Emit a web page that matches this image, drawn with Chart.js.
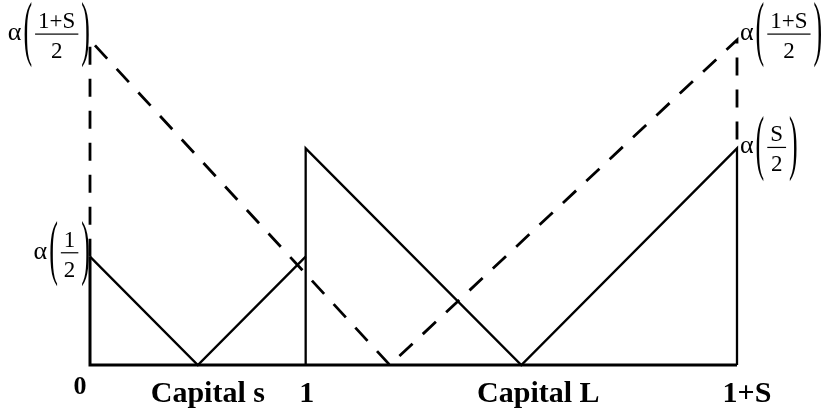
<!DOCTYPE html>
<html>
<head>
<meta charset="utf-8">
<script src="https://cdn.jsdelivr.net/npm/chart.js@4/dist/chart.umd.min.js"></script>
<style>
  html, body { margin: 0; padding: 0; background: #fff; }
  #wrap { width: 825px; height: 412px; position: relative; }
</style>
</head>
<body>
<div id="wrap"><canvas id="capitalChart"></canvas></div>
<script>
// axis ticks along the bottom
const xTickValues = [0, 0.5, 1, 2, 3];
const xTickLabels = ['0', 'Capital s', '1', 'Capital L', '1+S'];

// solid payoff lines
const baseX = [3, 0, 0];
const baseY = [0, 0, 0.5];
const lowX = [0, 0.5, 1];
const lowY = [0.5, 0, 0.5];
const highX = [1, 1, 2, 3, 3];
const highY = [0, 1, 0, 1, 0];

// dashed line
const dashX = [0, 0, 1.39, 3, 3];
const dashY = [0.5, 1.5, 0, 1.5, 1];

// alpha(num/den) labels on the vertical edges
const alphaAtX = [0, 0, 3, 3];
const alphaAtY = [0.5, 1.5, 1, 1.5];
const alphaNum = ['1', '1+S', 'S', '1+S'];
const alphaDen = ['2', '2', '2', '2'];

const pts = (xs, ys) => xs.map((x, i) => ({ x: x, y: ys[i] }));

function lineSet(xs, ys, width, dash) {
  return {
    data: pts(xs, ys),
    showLine: true,
    borderColor: '#000',
    borderWidth: width,
    borderDash: dash || [],
    pointRadius: 0,
    fill: false,
    clip: false,
    borderCapStyle: 'butt',
    borderJoinStyle: 'miter'
  };
}

const SERIF = '"Liberation Serif", "Times New Roman", serif';

function drawAlpha(ctx, edgeX, side, yc, num, den) {
  const fracFont = '23px ' + SERIF;
  const symFont = '26px ' + SERIF;
  ctx.font = symFont;
  const aW = ctx.measureText('\u03b1').width;
  const pW = ctx.measureText('(').width;
  ctx.font = fracFont;
  const fW = Math.max(ctx.measureText(num).width, ctx.measureText(den).width) + 6;
  const total = aW + 2 + pW + 3 + fW + 3 + pW;
  let x = side === 'left' ? edgeX - total : edgeX + 3;

  ctx.fillStyle = '#000';
  ctx.textBaseline = 'alphabetic';
  ctx.textAlign = 'left';
  ctx.font = symFont;
  ctx.fillText('\u03b1', x, yc + 6);
  x += aW + 2;

  // tall parentheses: stretch the glyph vertically
  const stretch = (ch, px) => {
    ctx.save();
    ctx.translate(px, yc);
    ctx.scale(1, 2.8);
    ctx.font = symFont;
    ctx.fillText(ch, 0, 6.5);
    ctx.restore();
  };
  stretch('(', x);
  x += pW + 3;

  ctx.font = fracFont;
  ctx.textAlign = 'center';
  const cx = x + fW / 2;
  ctx.fillText(num, cx, yc - 6);
  ctx.fillText(den, cx, yc + 24);
  ctx.fillRect(x, yc - 0.5, fW, 1.2);
  ctx.textAlign = 'left';
  x += fW + 3;
  stretch(')', x);
}

const labelPlugin = {
  id: 'labelPlugin',
  afterDraw(chart) {
    const ctx = chart.ctx;
    const xs = chart.scales.x, ys = chart.scales.y;
    ctx.save();

    // bottom labels
    const nudge = [-10, 10, 1, 17, 10];
    ctx.fillStyle = '#000';
    ctx.textAlign = 'center';
    ctx.textBaseline = 'alphabetic';
    xTickValues.forEach((v, i) => {
      const small = xTickLabels[i] === '0';
      ctx.font = 'bold ' + (small ? 26 : 30) + 'px ' + SERIF;
      ctx.fillText(xTickLabels[i], xs.getPixelForValue(v) + nudge[i], small ? 394 : 402);
    });

    // alpha labels
    alphaAtX.forEach((v, i) => {
      const px = xs.getPixelForValue(v);
      const py = ys.getPixelForValue(alphaAtY[i]);
      const side = v === xs.min ? 'left' : 'right';
      const lift = alphaAtY[i] === ys.max ? 6 : (alphaAtY[i] < 1 ? 4 : 1);
      drawAlpha(ctx, px, side, py - lift, alphaNum[i], alphaDen[i]);
    });
    ctx.restore();
  }
};

new Chart(document.getElementById('capitalChart'), {
  type: 'scatter',
  data: {
    datasets: [
      lineSet(baseX, baseY, 3),
      lineSet(lowX, lowY, 2.3),
      lineSet(highX, highY, 2.3),
      lineSet(dashX, dashY, 2.8, [18, 14])
    ]
  },
  options: {
    responsive: true,
    maintainAspectRatio: false,
    animation: false,
    events: [],
    layout: { padding: { left: 90, right: 88, top: 40, bottom: 47 } },
    scales: {
      x: { type: 'linear', min: 0, max: 3, display: false },
      y: { type: 'linear', min: 0, max: 1.5, display: false }
    },
    plugins: {
      legend: { display: false },
      tooltip: { enabled: false }
    }
  },
  plugins: [labelPlugin]
});
</script>
</body>
</html>
